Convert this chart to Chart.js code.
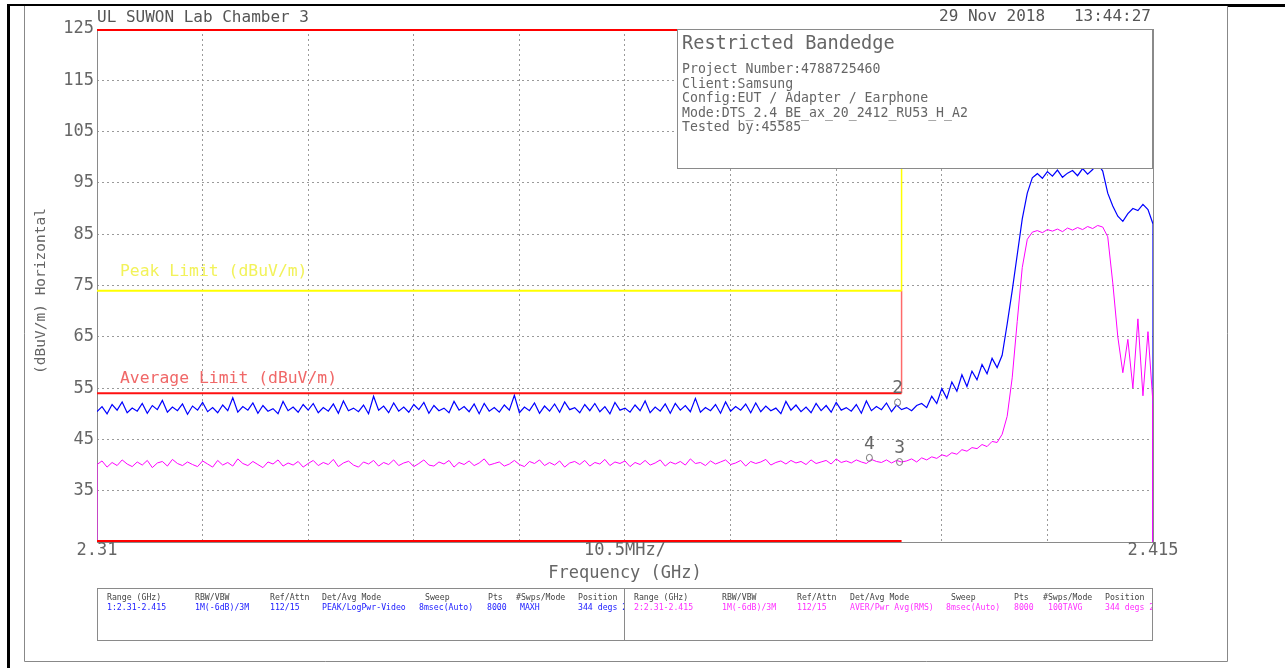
<!DOCTYPE html>
<html>
<head>
<meta charset="utf-8">
<script src="https://cdn.jsdelivr.net/npm/chart.js@4/dist/chart.umd.min.js"></script>
<style>
body { margin: 0; background: #fff; }
canvas { display: block; }
</style>
</head>
<body>
<canvas id="chart" width="1285" height="668"></canvas>
<script>
// sweep: 2.31 - 2.415 GHz, one reading every 0.5 MHz
var sweepStart = 2.31;
var sweepStep = 0.0005;

// trace 1, peak / max hold (dBuV/m)
var peakTrace = [
    50.4, 51.4, 50.0, 51.8, 50.7, 52.3, 50.2, 51.1, 50.5, 52.0, 50.1, 51.6, 50.8, 52.6, 50.3, 51.3, 50.6, 51.9, 49.9, 51.5,
    50.7, 52.2, 50.4, 51.2, 50.2, 51.7, 50.6, 53.1, 50.3, 51.4, 50.7, 52.1, 50.1, 51.6, 50.5, 51.0, 50.0, 52.4, 50.6, 51.3,
    50.3, 51.8, 50.7, 52.0, 50.2, 51.2, 50.5, 51.9, 50.1, 52.5, 50.6, 51.1, 50.4, 51.7, 50.0, 53.4, 50.7, 51.5, 50.2, 52.1,
    50.5, 51.3, 50.3, 51.8, 50.8, 52.2, 50.1, 51.6, 50.6, 51.1, 50.2, 52.4, 50.7, 51.4, 50.4, 51.9, 50.0, 52.0, 50.5, 51.2,
    50.3, 51.7, 50.7, 53.6, 50.2, 51.3, 50.6, 52.1, 50.1, 51.5, 50.5, 51.9, 50.3, 52.3, 50.8, 51.2, 50.2, 51.8, 50.6, 52.0,
    50.4, 51.4, 50.0, 52.2, 50.7, 51.1, 50.3, 51.7, 50.6, 52.5, 50.2, 51.3, 50.5, 51.9, 50.1, 52.0, 50.7, 51.6, 50.4, 53.0,
    50.3, 51.2, 50.6, 51.8, 50.1, 52.3, 50.5, 51.4, 50.7, 51.9, 50.2, 52.1, 50.4, 51.5, 50.6, 51.1, 50.0, 52.4, 50.7, 51.7,
    50.4, 51.3, 50.2, 52.0, 50.6, 51.6, 50.3, 52.2, 50.7, 51.2, 50.5, 51.8, 50.1, 52.5, 50.6, 51.4, 50.8, 52.1, 50.4, 51.7,
    50.8, 51.2, 50.6, 51.6, 52.0, 51.2, 53.4, 52.0, 54.9, 53.0, 56.2, 54.4, 57.6, 55.3, 58.3, 56.6, 59.6, 57.8, 60.8, 59.0,
    61.4, 67.5, 74.0, 81.0, 88.0, 93.0, 96.0, 96.8, 95.9, 97.2, 96.3, 97.5, 96.1, 96.9, 97.4, 96.4, 97.8, 96.7, 97.6, 98.8,
    97.3, 93.0, 90.5, 88.5, 87.5, 89.0, 90.0, 89.6, 90.8, 89.8, 87.0
];

// trace 2, average (dBuV/m)
var avgTrace = [
    40.1, 40.8, 39.6, 40.5, 39.9, 41.0, 40.2, 39.7, 40.6, 40.0, 40.9, 39.5, 40.4, 40.7, 39.8, 41.1, 40.3, 39.9, 40.6, 40.1,
    39.7, 40.8, 40.2, 39.6, 40.9, 40.0, 40.5, 39.8, 41.2, 40.3, 39.9, 40.7, 40.1, 39.5, 40.6, 40.2, 41.0, 39.8, 40.4, 40.0,
    40.7, 39.6, 40.3, 40.9, 39.9, 40.5, 40.1, 41.1, 39.7, 40.4, 40.8, 40.0, 39.6, 40.6, 40.2, 40.9, 39.8, 40.5, 40.1, 41.0,
    39.9, 40.4, 40.7, 39.7, 40.3, 41.0, 40.0, 39.8, 40.6, 40.2, 40.9, 39.6, 40.5, 40.1, 40.8, 39.9, 40.4, 41.2, 40.0, 40.3,
    40.6, 39.8, 40.2, 40.9, 40.1, 39.7, 40.7, 40.3, 41.0, 39.9, 40.5, 40.0, 40.8, 39.6, 40.4, 40.7, 40.1, 40.9, 39.8, 40.5,
    40.2, 41.1, 39.9, 40.6, 40.3, 40.8, 39.7, 40.5, 40.1, 40.9, 40.0, 40.4, 41.0, 39.8, 40.6, 40.2, 40.7, 40.0, 41.2, 40.3,
    40.5, 39.9, 40.8, 40.2, 40.6, 41.0, 40.1, 40.4, 40.9, 39.8, 40.7, 40.3, 40.6, 41.1, 40.0, 40.5, 40.8, 40.2, 40.9, 40.4,
    40.7, 40.1, 41.0, 40.3, 40.6, 40.9, 40.2, 41.2, 40.5, 40.8, 40.4, 41.0, 40.6, 40.3, 41.1, 40.7, 40.5, 41.0, 40.4, 40.9,
    40.6, 40.8, 41.2, 40.6, 41.4, 41.0, 41.6, 41.3, 42.0, 41.7, 42.4, 42.1, 43.0, 42.7, 43.4, 43.2, 44.0, 43.6, 44.6, 44.4,
    46.0, 49.5, 57.0, 68.0, 78.5, 84.0, 85.4, 85.7, 85.3, 85.9, 85.6, 86.0, 85.5, 86.2, 85.8, 86.3, 85.9, 86.5, 86.1, 86.7,
    86.4, 84.5, 75.5, 65.0, 58.0, 64.5, 55.0, 68.5, 53.5, 66.0, 52.0
];

var floorLevel = 25;

var xGridTicks = [2.31, 2.3205, 2.331, 2.3415, 2.352, 2.3625, 2.373, 2.3835, 2.394, 2.4045, 2.415];
var xTickLabels = ['2.31', '', '', '', '', '10.5MHz/', '', '', '', '', '2.415'];
var yGridTicks = [25, 35, 45, 55, 65, 75, 85, 95, 105, 115, 125];
var yTickLabels = ['', '35', '45', '55', '65', '75', '85', '95', '105', '115', '125'];

// limit lines: restricted band ends at 2.39 GHz
var peakLimit = [{x: 2.31, y: 74}, {x: 2.39, y: 74}, {x: 2.39, y: 125}];
var avgLimit = [{x: 2.31, y: 54}, {x: 2.39, y: 54}, {x: 2.39, y: 74}];
var bandTop = [{x: 2.31, y: 125}, {x: 2.39, y: 125}];
var bandBottom = [{x: 2.31, y: 25}, {x: 2.39, y: 25}];

var markers = [
    {label: '2', x: 2.3896, y: 52.2},
    {label: '4', x: 2.3868, y: 41.4},
    {label: '3', x: 2.3898, y: 40.6}
];

var infoLines = ['Project Number:4788725460', 'Client:Samsung', 'Config:EUT / Adapter / Earphone',
    'Mode:DTS_2.4_BE_ax_20_2412_RU53_H_A2', 'Tested by:45585'];

var tableHead = ['Range (GHz)', 'RBW/VBW', 'Ref/Attn', 'Det/Avg Mode', 'Sweep', 'Pts', '#Swps/Mode', 'Position'];
var tableRow1 = ['1:2.31-2.415', '1M(-6dB)/3M', '112/15', 'PEAK/LogPwr-Video', '8msec(Auto)', '8000', 'MAXH', '344 degs 2'];
var tableRow2 = ['2:2.31-2.415', '1M(-6dB)/3M', '112/15', 'AVER/Pwr Avg(RMS)', '8msec(Auto)', '8000', '100TAVG', '344 degs 28'];

function buildTrace(values, leadFloor) {
    var pts = values.map(function (v, i) {
        return {x: sweepStart + i * sweepStep, y: v};
    });
    if (leadFloor) pts.unshift({x: sweepStart, y: floorLevel});
    pts.push({x: pts[pts.length - 1].x, y: floorLevel});
    return pts;
}

var mono = '"DejaVu Sans Mono", "Liberation Mono", monospace';

function txt(ctx, s, x, y, size, color, align) {
    ctx.font = size + 'px ' + mono;
    ctx.fillStyle = color;
    ctx.textAlign = align || 'left';
    ctx.textBaseline = 'middle';
    ctx.fillText(s, x, y);
}

var decor = {
    id: 'decor',
    beforeDatasetsDraw: function (chart) {
        var a = chart.chartArea, ctx = chart.ctx;
        ctx.save();
        ctx.strokeStyle = '#8a8a8a';
        ctx.lineWidth = 1;
        ctx.strokeRect(a.left + 0.5, a.top + 0.5, a.right - a.left, a.bottom - a.top);
        ctx.restore();
    },
    afterDraw: function (chart) {
        var ctx = chart.ctx;
        var xs = chart.scales.x, ys = chart.scales.y;
        ctx.save();

        // page frame
        ctx.fillStyle = '#000';
        ctx.fillRect(7, 4, 1278, 2);
        ctx.fillRect(7, 4, 3, 664);
        ctx.fillRect(1227, 4, 58, 3);
        ctx.strokeStyle = '#888';
        ctx.lineWidth = 1;
        ctx.beginPath();
        ctx.moveTo(24.5, 6); ctx.lineTo(24.5, 661.5); ctx.lineTo(1227.5, 661.5); ctx.lineTo(1227.5, 6);
        ctx.stroke();

        // header
        txt(ctx, 'UL SUWON Lab Chamber 3', 97, 18, 16, '#555');
        txt(ctx, '29 Nov 2018   13:44:27', 1151, 17, 16, '#555', 'right');

        // y tick labels
        yGridTicks.forEach(function (v, i) {
            if (yTickLabels[i]) txt(ctx, yTickLabels[i], 94, ys.getPixelForValue(v), 17, '#666', 'right');
        });
        // x tick labels
        xGridTicks.forEach(function (v, i) {
            if (xTickLabels[i]) txt(ctx, xTickLabels[i], xs.getPixelForValue(v), 551, 17, '#666', 'center');
        });
        txt(ctx, 'Frequency (GHz)', xs.getPixelForValue(2.3625), 574, 17, '#666', 'center');

        ctx.save();
        ctx.translate(41, 291);
        ctx.rotate(-Math.PI / 2);
        txt(ctx, '(dBuV/m) Horizontal', 0, 0, 14.5, '#666', 'center');
        ctx.restore();

        // limit captions
        txt(ctx, 'Peak Limit (dBuV/m)', 120, 272, 16.4, '#f2f25a');
        txt(ctx, 'Average Limit (dBuV/m)', 120, 379, 16.4, '#f06868');

        // markers
        markers.forEach(function (m) {
            var px = xs.getPixelForValue(m.x), py = ys.getPixelForValue(m.y);
            ctx.strokeStyle = '#777';
            ctx.lineWidth = 1;
            ctx.beginPath();
            ctx.ellipse(px, py, 3, 3.5, 0, 0, Math.PI * 2);
            ctx.stroke();
            txt(ctx, m.label, px, py - 14, 18, '#666', 'center');
        });

        // info box
        ctx.fillStyle = '#fff';
        ctx.fillRect(677, 29, 475, 139);
        ctx.strokeStyle = '#8a8a8a';
        ctx.strokeRect(677.5, 29.5, 475, 139);
        txt(ctx, 'Restricted Bandedge', 682, 44, 18.6, '#666');
        infoLines.forEach(function (s, i) {
            txt(ctx, s, 682, 70 + i * 14.4, 13.2, '#666');
        });

        // settings table
        ctx.strokeStyle = '#8a8a8a';
        ctx.strokeRect(97.5, 588.5, 1055, 52);
        ctx.beginPath();
        ctx.moveTo(624.5, 588); ctx.lineTo(624.5, 641);
        ctx.stroke();
        var colL = [107, 195, 270, 322, 425, 488, 516, 578];
        var colV = [107, 195, 270, 322, 419, 487, 520, 578];
        var colR = [634, 722, 797, 850, 951, 1014, 1043, 1105];
        var colRV = [634, 722, 797, 850, 946, 1014, 1048, 1105];
        ctx.save();
        ctx.beginPath();
        ctx.rect(98, 589, 526, 50);
        ctx.clip();
        tableHead.forEach(function (s, i) { txt(ctx, s, colL[i], 598, 8.2, '#444'); });
        tableRow1.forEach(function (s, i) { txt(ctx, s, colV[i], 608, 8.2, '#2020ff'); });
        ctx.restore();
        ctx.save();
        ctx.beginPath();
        ctx.rect(625, 589, 527, 50);
        ctx.clip();
        tableHead.forEach(function (s, i) { txt(ctx, s, colR[i], 598, 8.2, '#444'); });
        tableRow2.forEach(function (s, i) { txt(ctx, s, colRV[i], 608, 8.2, '#ff30ff'); });
        ctx.restore();

        ctx.restore();
    }
};

function isVertical(c) {
    return c.p0.parsed.x === c.p1.parsed.x;
}

var ctx = document.getElementById('chart');

var chart = new Chart(ctx, {
    type: 'line',
    data: {
        datasets: [
            {data: bandTop, borderColor: '#ff0000', borderWidth: 4},
            {data: bandBottom, borderColor: '#ff0000', borderWidth: 4},
            {data: peakLimit, borderColor: '#ffff00', borderWidth: 2,
                segment: {borderWidth: function (c) { return isVertical(c) ? 1.5 : 2; }}},
            {data: avgLimit, borderColor: '#ff1010', borderWidth: 2,
                segment: {
                    borderWidth: function (c) { return isVertical(c) ? 1.5 : 2; },
                    borderColor: function (c) { return isVertical(c) ? '#ff6a6a' : '#ff1010'; }
                }},
            {data: buildTrace(avgTrace, true), borderColor: '#ff00ff', borderWidth: 1},
            {data: buildTrace(peakTrace, false), borderColor: '#0000ff', borderWidth: 1.2}
        ]
    },
    options: {
        responsive: false,
        animation: false,
        devicePixelRatio: 1,
        layout: {padding: {left: 97, right: 132, top: 29, bottom: 126}},
        elements: {point: {radius: 0}, line: {tension: 0}},
        plugins: {legend: {display: false}, tooltip: {enabled: false}},
        scales: {
            x: {
                type: 'linear', min: 2.31, max: 2.415,
                afterBuildTicks: function (s) { s.ticks = xGridTicks.map(function (v) { return {value: v}; }); },
                ticks: {display: false},
                grid: {color: '#9a9a9a', drawTicks: false},
                border: {display: false, dash: [2, 3]}
            },
            y: {
                type: 'linear', min: 25, max: 125,
                afterBuildTicks: function (s) { s.ticks = yGridTicks.map(function (v) { return {value: v}; }); },
                ticks: {display: false},
                grid: {color: '#9a9a9a', drawTicks: false},
                border: {display: false, dash: [2, 3]}
            }
        }
    },
    plugins: [decor]
});
</script>
</body>
</html>
